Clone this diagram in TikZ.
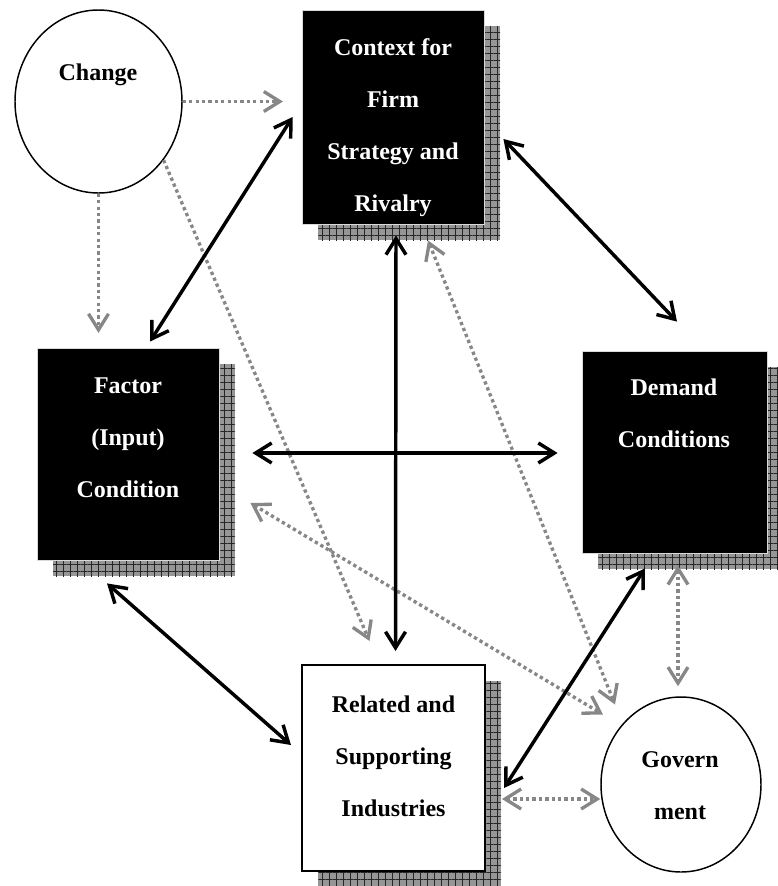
\documentclass[tikz,border=0pt]{standalone}
\usepackage{fontspec}
\setmainfont{Liberation Serif}
\usetikzlibrary{arrows.meta,shapes.geometric,shadows,patterns.meta,calc}
\definecolor{dotgray}{RGB}{135,135,135}
\definecolor{shadowgray}{RGB}{150,150,150}
\newcommand{\stacklines}[1]{\parbox[t]{160pt}{\centering #1}}

\begin{document}
\begin{tikzpicture}[x=0.75pt,y=-0.75pt,
  >={Straight Barb[length=12pt,width=15pt]},
  hatched/.style={
    general shadow={fill=shadowgray, shadow xshift=12pt, shadow yshift=-12pt},
    general shadow={pattern={Hatch[angle=0,distance=5.25pt,line width=0.5pt]},
                    pattern color=black!85, shadow xshift=12pt, shadow yshift=-12pt}},
  darkbox/.style={rectangle, hatched, fill=black, draw=black!15, line width=0.6pt, inner sep=0},
  lightbox/.style={rectangle, hatched, fill=white, draw=black, line width=1.5pt, inner sep=0},
  oval/.style={ellipse, draw=black, line width=1.1pt, fill=white, inner sep=0},
  caption/.style={inner sep=0, anchor=base, font=\fontsize{18}{39}\selectfont\bfseries},
  link/.style={draw=black, line width=2.6pt, <->},
  hint/.style={draw=dotgray, line width=2.5pt, dash pattern=on 2.5pt off 2.3pt}
]
\useasboundingbox (0,0) rectangle (778,886);

% nodes
\node[oval, minimum width=125.25pt, minimum height=137.25pt] (chg) at (98.5,101.5) {};
\node[caption] (chgt) at (98,80) {Change};

\node[darkbox, minimum width=136.5pt, minimum height=160.5pt] (ctx) at (393,117) {};
\node[caption, text=white] (ctxt) at (393,55) {\stacklines{Context for\\Firm\\Strategy and\\Rivalry}};

\node[darkbox, minimum width=136.5pt, minimum height=159pt] (fac) at (128,454) {};
\node[caption, text=white] (fact) at (128,393) {\stacklines{Factor\\(Input)\\Condition}};

\node[darkbox, minimum width=138.75pt, minimum height=151.5pt] (dem) at (674.5,452) {};
\node[caption, text=white] (demt) at (674,395) {\stacklines{Demand\\Conditions}};

\node[lightbox, minimum width=137.25pt, minimum height=154.5pt] (rel) at (393.5,768) {};
\node[caption] (relt) at (393.5,712) {\stacklines{Related and\\Supporting\\Industries}};

\node[oval, minimum width=120pt, minimum height=131.25pt] (gov) at (681,784.5) {};
\node[caption] (govt) at (680,767) {\stacklines{Govern\\ment}};

% dotted influences
\draw[hint,->,shorten >=14pt] (chg.east) -- (chg.east -| ctx.west);
\draw[hint,->,shorten >=11pt] (chg.south) -- (chg.south |- fac.north);
\draw[hint,->] (chg.-42) -- ($(rel.north)+(-24,-23)$);
\draw[hint,<->] ($(ctx.south)+(35,16)$) -- ($(gov.center)+(-66,-80)$);
\draw[hint,<->] ($(fac.east)+(31,49)$) -- ($(gov.center)+(-78,-70)$);
\draw[hint,<->] ($(dem.south)+(3.5,12)$) -- ($(gov.north)+(-3,-10)$);
\draw[hint,<->] ($(rel.east)+(16,31)$) -- ($(gov.west)+(0,14.5)$);

% diamond of determinants
\draw[link] ($(ctx.west)+(-9,0)$) -- ($(fac.north)+(22,-6)$);
\draw[link] ($(ctx.south)+(3,11)$) -- ($(rel.north)+(2,-13)$);
\draw[link] ($(fac.east)+(33,-1)$) -- ($(dem.west)+(-24,1)$);
\draw[link] ($(ctx.east)+(19,22)$) -- ($(dem.north)+(2.5,-29)$);
\draw[link] ($(dem.south)+(-29.5,15)$) -- ($(rel.east)+(18,20)$);
\draw[link] ($(fac.south)+(-21,23)$) -- ($(rel.west)+(-10,-23)$);
\end{tikzpicture}
\end{document}
